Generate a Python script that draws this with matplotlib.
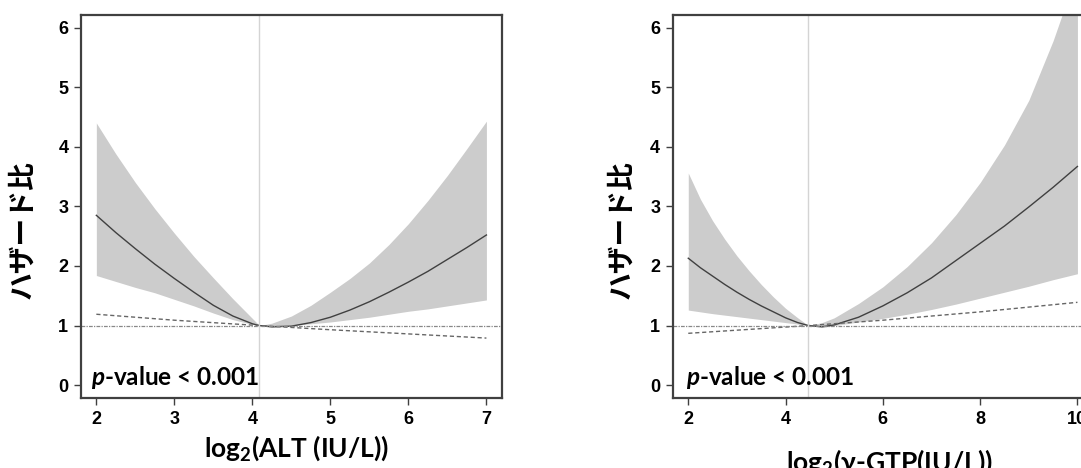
import numpy as np
import matplotlib
matplotlib.use("Agg")
import matplotlib.pyplot as plt

plt.rcParams['mathtext.fontset'] = 'custom'
plt.rcParams['mathtext.rm'] = 'Lato:bold'
plt.rcParams['mathtext.bf'] = 'Lato:bold'
plt.rcParams['mathtext.it'] = 'Lato:italic:bold'

# ---- left panel: ALT ----
alt_x = [2.0, 2.25, 2.5, 2.75, 3.0, 3.25, 3.5, 3.75, 4.0, 4.09, 4.25, 4.5,
         4.75, 5.0, 5.25, 5.5, 5.75, 6.0, 6.25, 6.5, 6.75, 7.0]
alt_hr = [2.85, 2.56, 2.29, 2.03, 1.79, 1.56, 1.34, 1.16, 1.03, 1.0, 0.98, 0.99,
          1.05, 1.14, 1.26, 1.40, 1.56, 1.73, 1.91, 2.11, 2.31, 2.52]
alt_hi = [4.40, 3.88, 3.40, 2.96, 2.55, 2.16, 1.80, 1.45, 1.12, 1.0, 1.04, 1.16,
          1.34, 1.56, 1.79, 2.05, 2.36, 2.71, 3.10, 3.52, 3.97, 4.43]
alt_lo = [1.84, 1.74, 1.64, 1.55, 1.44, 1.33, 1.21, 1.10, 1.02, 1.0, 0.97, 1.0,
          1.03, 1.06, 1.10, 1.14, 1.19, 1.24, 1.28, 1.33, 1.38, 1.43]
alt_lin_x = [2, 3, 4.09, 5, 6, 7]
alt_lin = [1.19, 1.09, 1.0, 0.93, 0.86, 0.79]
alt_ref = 4.09

# ---- right panel: gamma-GTP ----
gtp_x = [2.0, 2.25, 2.5, 2.75, 3.0, 3.25, 3.5, 3.75, 4.0, 4.25, 4.47, 4.75,
         5.0, 5.5, 6.0, 6.5, 7.0, 7.5, 8.0, 8.5, 9.0, 9.5, 10.0]
gtp_hr = [2.13, 1.97, 1.83, 1.69, 1.56, 1.44, 1.33, 1.23, 1.13, 1.05, 1.0, 0.98,
          1.01, 1.14, 1.33, 1.55, 1.80, 2.09, 2.38, 2.67, 2.99, 3.32, 3.67]
gtp_hi = [3.56, 3.12, 2.76, 2.45, 2.17, 1.92, 1.69, 1.48, 1.29, 1.13, 1.0, 1.05,
          1.13, 1.37, 1.65, 1.99, 2.39, 2.86, 3.40, 4.03, 4.78, 5.78, 6.95]
gtp_lo = [1.26, 1.23, 1.20, 1.175, 1.15, 1.125, 1.10, 1.075, 1.05, 1.025, 1.0, 0.97,
          1.0, 1.06, 1.12, 1.19, 1.27, 1.36, 1.46, 1.56, 1.66, 1.77, 1.87]
gtp_lin_x = [2, 4.47, 6, 8, 10]
gtp_lin = [0.87, 1.0, 1.09, 1.23, 1.39]
gtp_ref = 4.47

ylabel = 'ハザード比'
ptext = r'$\mathit{p}$-value < 0.001'

fig = plt.figure(figsize=(10.81, 4.68), dpi=100)


def panel(rect, x, hr, lo, hi, lin_x, lin, ref, xlim, xticks, xlabel, xlab_y, ylab_x, p_x):
    ax = fig.add_axes(rect)
    ax.fill_between(x, lo, hi, color='#cccccc', lw=0)
    ax.plot(x, hr, color='#404040', lw=1.0)
    ax.plot(lin_x, lin, color='#666666', lw=1.0, ls=(0, (3, 2)))
    ax.axhline(1, color='#888888', lw=0.9, ls=(0, (3, 1, 1, 1)))
    ax.axvline(ref, color='#d4d4d4', lw=1.0)
    ax.set_xlim(*xlim)
    ax.set_ylim(-0.22, 6.22)
    ax.set_xticks(xticks)
    ax.set_yticks(range(7))
    for s in ax.spines.values():
        s.set_color('#404040')
        s.set_linewidth(1.6)
    ax.tick_params(direction='out', length=5, width=1, color='#404040', pad=4,
                   labelsize=13)
    for lab in ax.get_xticklabels() + ax.get_yticklabels():
        lab.set_family('Liberation Sans')
        lab.set_fontweight('bold')
    ax.text(p_x, 0.0, ptext, fontsize=17.5, fontweight='bold', family='Lato',
            va='baseline')
    fig.text(rect[0] + 0.2, xlab_y, xlabel, fontsize=19, fontweight='bold',
             family='Lato', ha='center', va='center')
    fig.text(ylab_x, 0.51, ylabel, rotation=90, fontsize=20, fontweight='bold',
             family=['Noto Sans CJK JP', 'DejaVu Sans'], ha='center', va='center')
    return ax


panel([0.0747, 0.149, 0.3897, 0.82], alt_x, alt_hr, alt_lo, alt_hi,
      alt_lin_x, alt_lin, alt_ref, (1.8, 7.2), [2, 3, 4, 5, 6, 7],
      r'log$_{\mathbf{2}}$(ALT (IU/L))', 0.043, 0.021, 1.93)

panel([0.6223, 0.149, 0.3888, 0.82], gtp_x, gtp_hr, gtp_lo, gtp_hi,
      gtp_lin_x, gtp_lin, gtp_ref, (1.68, 10.32), [2, 4, 6, 8, 10],
      r'log$_{\mathbf{2}}$(γ-GTP(IU/L))', 0.013, 0.575, 1.95)

fig.savefig('out.png', dpi=100)
